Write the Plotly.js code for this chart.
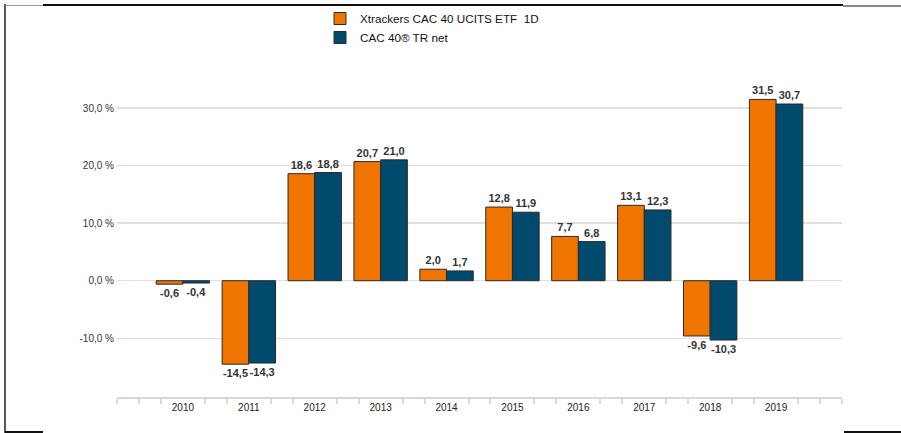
<!DOCTYPE html>
<html>
<head>
<meta charset="utf-8">
<script src="https://cdn.plot.ly/plotly-3.0.1.min.js"></script>
<style>
  html, body { margin: 0; padding: 0; background: #fff; }
  #chart { width: 901px; height: 433px; position: absolute; left: 0; top: 0; }
  .ln { position: absolute; }
</style>
</head>
<body>
<div id="chart"></div>
<div class="ln" style="left:4px;top:4px;width:2px;height:429px;background:#555;"></div>
<div class="ln" style="left:5px;top:5px;width:38px;height:1px;background:#999;"></div>
<div class="ln" style="left:43px;top:4px;width:800px;height:2px;background:#111;"></div>
<div class="ln" style="left:843px;top:5px;width:58px;height:2px;background:#888;"></div>
<div class="ln" style="left:5px;top:431px;width:38px;height:2px;background:#111;"></div>
<div class="ln" style="left:844px;top:431px;width:57px;height:2px;background:#111;"></div>
<script>
const years = ["2010","2011","2012","2013","2014","2015","2016","2017","2018","2019"];
const etfValues = [-0.6, -14.5, 18.6, 20.7, 2.0, 12.8, 7.7, 13.1, -9.6, 31.5];
const indexValues = [-0.4, -14.3, 18.8, 21.0, 1.7, 11.9, 6.8, 12.3, -10.3, 30.7];
const seriesNames = ["Xtrackers CAC 40 UCITS ETF\u00a0 1D", "CAC 40® TR net"];
const yTickVals = [-10, 0, 10, 20, 30];
const yTickText = ["-10,0 %", "0,0 %", "10,0 %", "20,0 %", "30,0 %"];

const fmt = v => v.toFixed(1).replace('.', ',');
const labelFont = { family: "Liberation Sans, Arial, sans-serif", size: 11, color: "#333", weight: "bold" };
const positions = years.map((_, i) => i);

function barTrace(name, vals, color) {
  return {
    type: "bar", name: name, x: positions, y: vals,
    text: vals.map(fmt), textposition: "outside", textfont: labelFont,
    cliponaxis: false, constraintext: "none",
    marker: { color: color, line: { color: "#2a2a2a", width: 1 } },
    hoverinfo: "skip"
  };
}

// minor tick positions (every third of a category, skipping category centers)
const minorTicks = [];
for (let k = -3; k <= 30; k++) { if (k % 3 !== 0 || k === -3 || k === 30) minorTicks.push(k / 3); }

const data = [
  barTrace(seriesNames[0], etfValues, "#ef7400"),
  barTrace(seriesNames[1], indexValues, "#004a6d")
];

const layout = {
  width: 901, height: 433,
  margin: { l: 117, r: 59, t: 62, b: 36, pad: 0, autoexpand: false },
  paper_bgcolor: "rgba(0,0,0,0)", plot_bgcolor: "rgba(0,0,0,0)",
  separators: ", ",
  barmode: "group", bargap: 0.19, bargroupgap: 0,
  font: { family: "Liberation Sans, Arial, sans-serif", size: 10, color: "#333" },
  showlegend: true,
  legend: {
    x: 0.28, y: 1.173, xanchor: "left", yanchor: "top",
    orientation: "v", font: { size: 11.7, color: "#111" },
    bgcolor: "rgba(0,0,0,0)", tracegroupgap: 0
  },
  xaxis: {
    type: "linear", range: [-1, 10], tickmode: "array", tickvals: positions, ticktext: years,
    ticks: "", showgrid: false, zeroline: false,
    showline: true, linecolor: "#dcd8cf", linewidth: 2,
    tickfont: { size: 10, color: "#222" }, fixedrange: true,
    minor: { tickmode: "array", tickvals: minorTicks, ticks: "outside", ticklen: 5, tickwidth: 2,
             tickcolor: "#dcd8cf", showgrid: false }
  },
  yaxis: {
    range: [-20.2, 38], tickmode: "array", tickvals: yTickVals, ticktext: yTickText,
    ticks: "", showline: false, ticklabelstandoff: 2,
    showgrid: true, gridcolor: "#e3e0d9", gridwidth: 1.5, zeroline: false,
    tickfont: { size: 10, color: "#333" }, fixedrange: true
  }
};

Plotly.newPlot("chart", data, layout, { displayModeBar: false, staticPlot: true });
</script>
</body>
</html>
